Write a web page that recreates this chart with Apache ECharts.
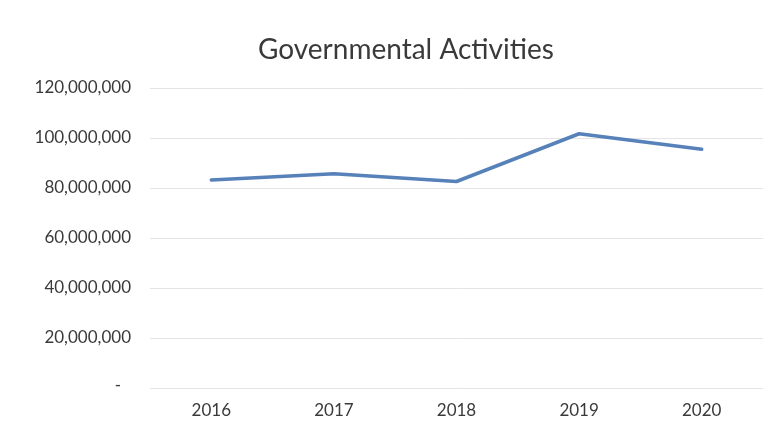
<!DOCTYPE html>
<html>
<head>
<meta charset="utf-8">
<script src="https://cdn.jsdelivr.net/npm/echarts@6/dist/echarts.min.js"></script>
<style>
  html, body { margin: 0; padding: 0; background: #fff; }
  #chart { width: 770px; height: 433px; }
</style>
</head>
<body>
<div id="chart"></div>
<script>
// Yearly totals for governmental activities
const years = ['2016', '2017', '2018', '2019', '2020'];
const totals = [83200000, 85700000, 82600000, 101700000, 95500000];
const yTicks = [0, 20000000, 40000000, 60000000, 80000000, 100000000, 120000000];

const chart = echarts.init(document.getElementById('chart'));
const textColor = '#3a3a3a';
const font = 'Lato, "Open Sans", sans-serif';

chart.setOption({
  animation: false,
  title: {
    text: 'Governmental Activities',
    left: 253,
    top: 31,
    textStyle: { fontFamily: font, fontSize: 28, fontWeight: 'normal', color: textColor }
  },
  grid: { left: 150, right: 7, top: 88, bottom: 45, containLabel: false },
  xAxis: {
    type: 'category',
    data: years,
    boundaryGap: true,
    axisLine: { show: false },
    axisTick: { show: false },
    axisLabel: { color: textColor, fontFamily: font, fontSize: 17, margin: 14 }
  },
  yAxis: {
    type: 'value',
    min: yTicks[0],
    max: yTicks[yTicks.length - 1],
    interval: yTicks[1] - yTicks[0],
    axisLine: { show: false },
    axisTick: { show: false },
    splitLine: { lineStyle: { color: '#e4e4e4', width: 1 } },
    axisLabel: {
      color: textColor,
      fontFamily: font,
      fontSize: 17,
      margin: 19,
      formatter: v => v === 0 ? '{dash|-}' : v.toLocaleString('en-US'),
      rich: { dash: { padding: [0, 10, 4, 0], fontSize: 17, color: textColor } }
    }
  },
  series: [{
    type: 'line',
    data: totals,
    symbol: 'none',
    lineStyle: { color: '#5681b9', width: 3.5, cap: 'round', join: 'round' }
  }]
});
</script>
</body>
</html>
